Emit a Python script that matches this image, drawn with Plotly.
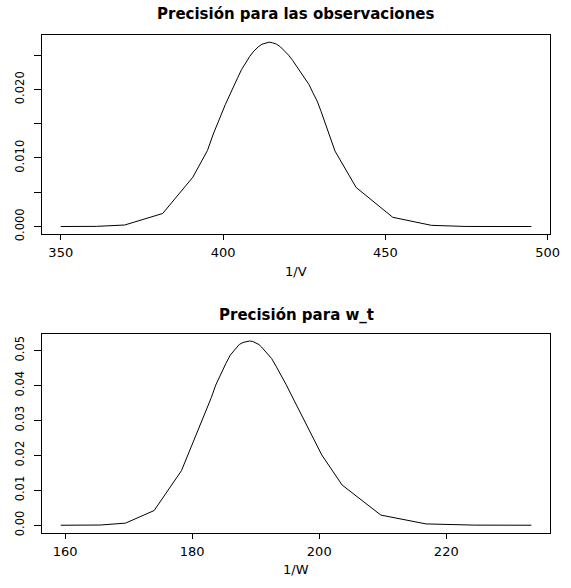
import plotly.graph_objects as go

# ---------------- data ----------------
obs_x = [350.0, 361.0, 369.7, 381.4, 390.7, 395.2, 397.0, 398.2, 399.5, 400.7,
         402.0, 403.2, 404.5, 405.7, 407.0, 408.2, 409.5, 410.8, 412.0, 413.1,
         414.2, 415.3, 416.5, 417.7, 419.0, 420.2, 421.5, 422.7, 424.0, 425.2,
         426.5, 427.7, 429.0, 430.2, 431.5, 433.0, 434.5, 441.0, 452.3, 464.2,
         474.6, 485.0, 495.0]
obs_y = [0.0, 0.00002, 0.00022, 0.0019, 0.0072, 0.0111, 0.0135, 0.0150, 0.0164, 0.0178,
         0.0192, 0.0205, 0.0217, 0.0229, 0.0239, 0.0248, 0.0256, 0.0262, 0.0266, 0.0268,
         0.0269, 0.0268, 0.0266, 0.0262, 0.0256, 0.0250, 0.0242, 0.0234, 0.0225, 0.0216,
         0.0207, 0.0195, 0.0183, 0.0168, 0.0151, 0.0131, 0.0110, 0.0057, 0.00134, 0.00017,
         0.00001, 0.0, 0.0]

wt_x = [159.3, 165.5, 169.5, 174.0, 178.3, 180.6, 181.4, 182.2, 183.0, 183.7,
        184.5, 185.3, 186.0, 186.8, 187.4, 188.0, 188.5, 189.0, 189.5, 190.0,
        190.5, 190.9, 191.7, 192.5, 193.2, 194.0, 194.8, 195.6, 196.3, 197.0,
        198.5, 200.4, 203.6, 209.7, 216.8, 224.5, 233.4]
wt_y = [0.0, 0.00005, 0.0006, 0.0042, 0.0156, 0.0259, 0.0293, 0.0326, 0.0365, 0.0401,
        0.0434, 0.0463, 0.0487, 0.0506, 0.0517, 0.0523, 0.0526, 0.0527, 0.0526, 0.0522,
        0.0517, 0.0510, 0.0495, 0.0477, 0.0455, 0.0430, 0.0402, 0.0373, 0.0348, 0.0322,
        0.0266, 0.0201, 0.0115, 0.0029, 0.00037, 0.00003, 0.0]

top_title = "Precisión para las observaciones"
bottom_title = "Precisión para w_t"
top_xlabel = "1/V"
bottom_xlabel = "1/W"

top_xticks = [350, 400, 450, 500]
top_yticks = [0.0, 0.005, 0.010, 0.015, 0.020, 0.025]
top_yticktext = ["0.000", "", "0.010", "", "0.020", ""]
bottom_xticks = [160, 180, 200, 220]
bottom_yticks = [0.0, 0.01, 0.02, 0.03, 0.04, 0.05]
bottom_yticktext = ["0.00", "0.01", "0.02", "0.03", "0.04", "0.05"]

# ---------------- layout helpers ----------------
W, H = 571, 588
FONT = "DejaVu Sans"


def r_range(v):
    lo, hi = min(v), max(v)
    pad = 0.04 * (hi - lo)
    return [lo - pad, hi + pad]


def px_x(p):
    return p / W


def px_y(p):
    return 1 - p / H


fig = go.Figure()
fig.add_trace(go.Scatter(x=obs_x, y=obs_y, mode="lines",
                         line=dict(color="black", width=1),
                         xaxis="x", yaxis="y", showlegend=False))
fig.add_trace(go.Scatter(x=wt_x, y=wt_y, mode="lines",
                         line=dict(color="black", width=1),
                         xaxis="x2", yaxis="y2", showlegend=False))

xdom = [px_x(42.7), px_x(560.0)]

common_x = dict(showline=True, mirror=True, linecolor="black", linewidth=1,
                ticks="outside", ticklen=5, tickwidth=1, tickcolor="black",
                showgrid=False, zeroline=False, ticklabelstandoff=2,
                tickfont=dict(family=FONT, size=13, color="black"))
common_y = dict(showline=True, mirror=True, linecolor="black", linewidth=1,
                ticks="outside", ticklen=7, tickwidth=1, tickcolor="black",
                showgrid=False, zeroline=False, tickangle=-90,
                ticklabelstandoff=5,
                tickfont=dict(family=FONT, size=11.5, color="black"))

fig.update_layout(
    width=W, height=H,
    margin=dict(l=0, r=0, t=0, b=0),
    paper_bgcolor="white", plot_bgcolor="white",
    xaxis=dict(domain=xdom, anchor="y", range=r_range(obs_x),
               tickvals=top_xticks, ticktext=[str(t) for t in top_xticks], **common_x),
    yaxis=dict(domain=[px_y(236.7), px_y(35.2)], anchor="x", range=r_range(obs_y),
               tickvals=top_yticks, ticktext=top_yticktext, **common_y),
    xaxis2=dict(domain=xdom, anchor="y2", range=r_range(wt_x),
                tickvals=bottom_xticks, ticktext=[str(t) for t in bottom_xticks], **common_x),
    yaxis2=dict(domain=[px_y(539.0), px_y(337.7)], anchor="x2", range=r_range(wt_y),
                tickvals=bottom_yticks, ticktext=bottom_yticktext, **common_y),
)

cx = (xdom[0] + xdom[1]) / 2
annos = [
    dict(text="<b>%s</b>" % top_title, x=cx, y=px_y(14.5), size=15),
    dict(text="<b>%s</b>" % bottom_title, x=cx, y=px_y(318.5), size=15),
    dict(text=top_xlabel, x=cx, y=px_y(274.5), size=13),
    dict(text=bottom_xlabel, x=cx, y=px_y(576.5), size=13),
]
for a in annos:
    fig.add_annotation(text=a["text"], x=a["x"], y=a["y"], xref="paper", yref="paper",
                       xanchor="center", yanchor="middle", showarrow=False,
                       font=dict(family=FONT, size=a["size"], color="black"))

fig.write_html("out.html")
